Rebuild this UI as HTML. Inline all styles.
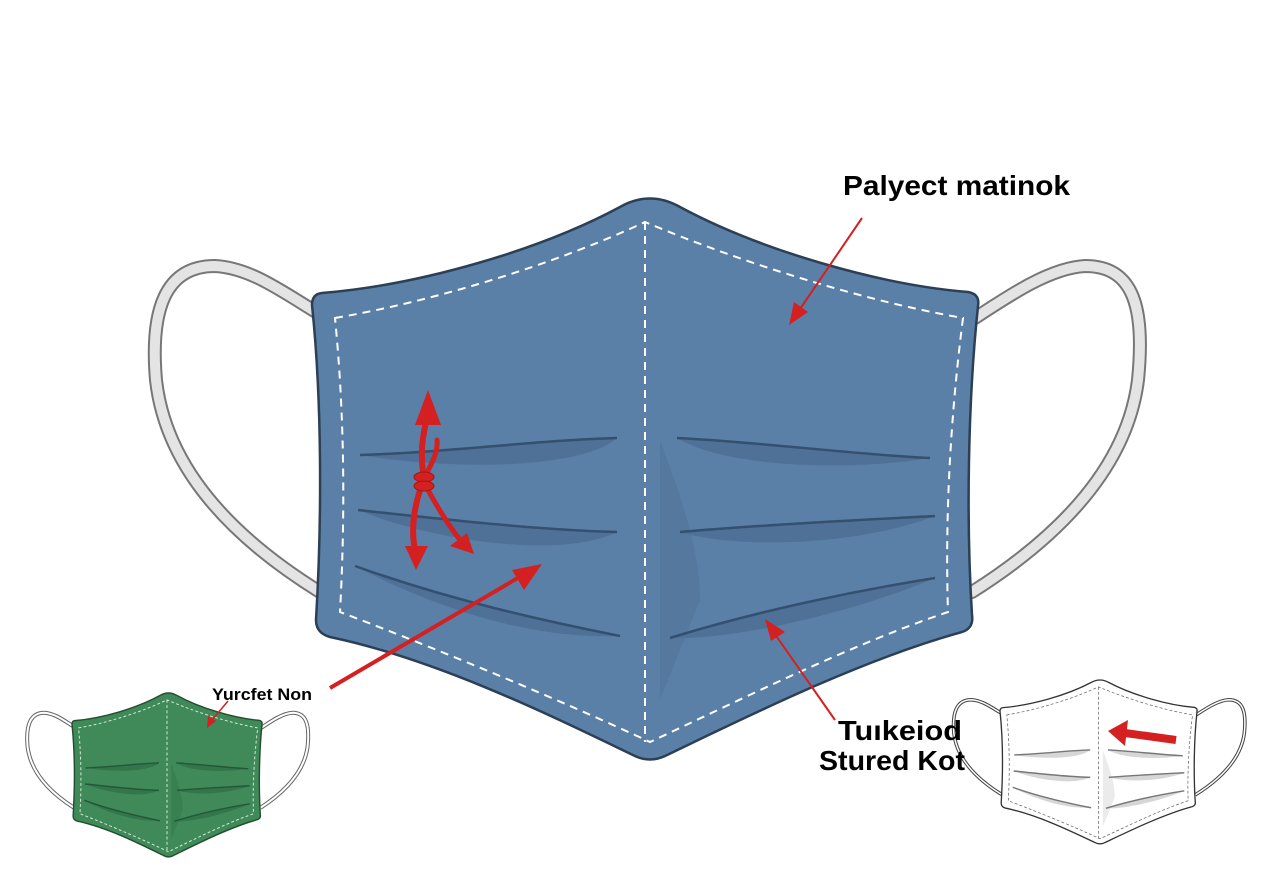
<!DOCTYPE html>
<html><head><meta charset="utf-8"><style>
html,body{margin:0;padding:0;background:#fff;}
svg{display:block;}
text{font-family:"Liberation Sans",sans-serif;font-weight:bold;fill:#000;}
</style></head><body>
<svg width="1280" height="896" viewBox="0 0 1280 896" xmlns="http://www.w3.org/2000/svg">
<defs>
<path id="loopd" d="M316,312 C280,290 250,268 215,266 C165,266 150,310 156,380 C165,460 220,530 320,592 M975,318 C1010,295 1050,268 1085,266 C1135,266 1145,310 1138,380 C1128,460 1070,530 972,592"/>
<path id="body" d="M312,305 Q312,294 322,293 C420,285 540,250 620,207 Q650,190 680,207 C760,250 880,285 968,292 Q980,294 978,306 C968,400 966,520 972,615 Q974,628 962,632 C860,660 740,720 665,756 Q650,763 635,756 C560,720 440,660 330,637 Q316,633 316,620 C322,520 322,400 312,305 Z"/>
<path id="stitch" d="M335,318 C440,300 560,262 645,222 C740,262 860,300 963,318 C950,420 945,520 948,612 C850,645 740,700 650,742 C560,700 440,650 340,612 C345,520 345,420 335,318 Z M645,222 L645,742"/>
<g id="shadows">
  <path d="M360,455 C450,452 540,440 617,438 C580,470 450,470 360,455Z"/>
  <path d="M358,510 C450,520 540,530 617,532 C560,560 430,540 358,510Z"/>
  <path d="M355,566 C450,600 540,620 620,636 C520,640 420,600 355,566Z"/>
  <path d="M677,438 C760,442 860,455 930,458 C860,470 730,470 677,438Z"/>
  <path d="M680,532 C760,525 860,520 935,516 C860,545 740,550 680,532Z"/>
  <path d="M670,638 C760,610 860,590 935,578 C860,610 740,640 670,638Z"/>
  <path d="M660,440 C690,520 700,560 700,600 L660,700 Z" opacity="0.5"/>
</g>
<g id="pleats" fill="none">
  <path d="M360,455 C450,452 540,440 617,438"/>
  <path d="M358,510 C450,520 540,530 617,532"/>
  <path d="M355,566 C450,600 540,620 620,636"/>
  <path d="M677,438 C760,442 860,455 930,458"/>
  <path d="M680,532 C760,525 860,520 935,516"/>
  <path d="M670,638 C760,610 860,590 935,578"/>
</g>
</defs>

<!-- main mask -->
<use href="#loopd" fill="none" stroke="#777" stroke-width="14" stroke-linecap="round"/>
<use href="#loopd" fill="none" stroke="#e4e4e4" stroke-width="10" stroke-linecap="round"/>
<use href="#body" fill="#5b80a8" stroke="#2c3f55" stroke-width="2.5"/>
<use href="#shadows" fill="#4a6a90" opacity="0.7"/>
<use href="#pleats" stroke="#34506e" stroke-width="2.5"/>
<use href="#stitch" fill="none" stroke="#fff" stroke-width="2" stroke-dasharray="8,6"/>

<!-- green mask -->
<g transform="translate(72,692) scale(0.2853,0.292) translate(-312,-195)">
  <use href="#loopd" fill="none" stroke="#666" stroke-width="14"/>
  <use href="#loopd" fill="none" stroke="#fff" stroke-width="7"/>
  <use href="#body" fill="#3f8a58" stroke="#244e32" stroke-width="5"/>
  <use href="#shadows" fill="#2f6e44" opacity="0.7"/>
  <use href="#pleats" stroke="#25573a" stroke-width="5"/>
  <use href="#stitch" fill="none" stroke="#cfe8d5" stroke-width="3.5" stroke-dasharray="10,8"/>
</g>

<!-- white mask -->
<g transform="translate(1000,679) scale(0.2958,0.292) translate(-312,-195)">
  <use href="#loopd" fill="none" stroke="#444" stroke-width="12"/>
  <use href="#loopd" fill="none" stroke="#fff" stroke-width="5"/>
  <use href="#body" fill="#fff" stroke="#333" stroke-width="4.5"/>
  <use href="#shadows" fill="#ccc" opacity="0.8"/>
  <use href="#pleats" stroke="#777" stroke-width="5"/>
  <use href="#stitch" fill="none" stroke="#666" stroke-width="2.5" stroke-dasharray="10,7"/>
</g>

<!-- red knot arrows -->
<g stroke="#d42020" stroke-linecap="round" fill="none">
  <path d="M424,478 C420,455 422,440 426,422" stroke-width="6"/>
  <path d="M424,478 C434,460 438,450 437,440" stroke-width="5"/>
  <path d="M420,490 C412,515 412,535 415,550" stroke-width="6"/>
  <path d="M428,490 C440,512 450,527 460,540" stroke-width="5"/>
</g>
<g fill="#d42020">
  <path d="M428,390 L441,425 L415,425Z"/>
  <path d="M416,570 L405,546 L428,546Z"/>
  <path d="M474,554 L450,546 L467,533Z"/>
</g>
<ellipse cx="424" cy="477" rx="10" ry="5" fill="#d42020" stroke="#a01515"/>
<ellipse cx="424" cy="486" rx="10" ry="5" fill="#d42020" stroke="#a01515"/>

<!-- annotation arrows -->
<g stroke="#d42020" fill="none">
  <line x1="330" y1="688" x2="528" y2="572" stroke-width="4"/>
  <path d="M542,564 L512,570 L524,590Z" fill="#d42020" stroke="none"/>
  <line x1="862" y1="218" x2="798" y2="312" stroke-width="2"/>
  <path d="M789,325 L794,302 L808,312Z" fill="#d42020" stroke="none"/>
  <line x1="835" y1="720" x2="772" y2="630" stroke-width="2"/>
  <path d="M765,619 L785,632 L771,641Z" fill="#d42020" stroke="none"/>
  <line x1="228" y1="701" x2="212" y2="720" stroke-width="1.5"/>
  <path d="M207,728 L208,716 L216,721Z" fill="#d42020" stroke="none"/>
  <line x1="1176" y1="740" x2="1125" y2="733" stroke-width="8"/>
  <path d="M1108,731 L1128,720 L1125,746Z" fill="#d42020" stroke="none"/>
</g>

<text x="843" y="195" font-size="28" textLength="227" lengthAdjust="spacingAndGlyphs">Palyect matinok</text>
<text x="838" y="740" font-size="28" textLength="124" lengthAdjust="spacingAndGlyphs">Tuıkeiod</text>
<text x="819" y="770" font-size="28" textLength="146" lengthAdjust="spacingAndGlyphs">Stured Kot</text>
<text x="212" y="700" font-size="17" textLength="100" lengthAdjust="spacingAndGlyphs">Yurcfet Non</text>
</svg>
</body></html>
